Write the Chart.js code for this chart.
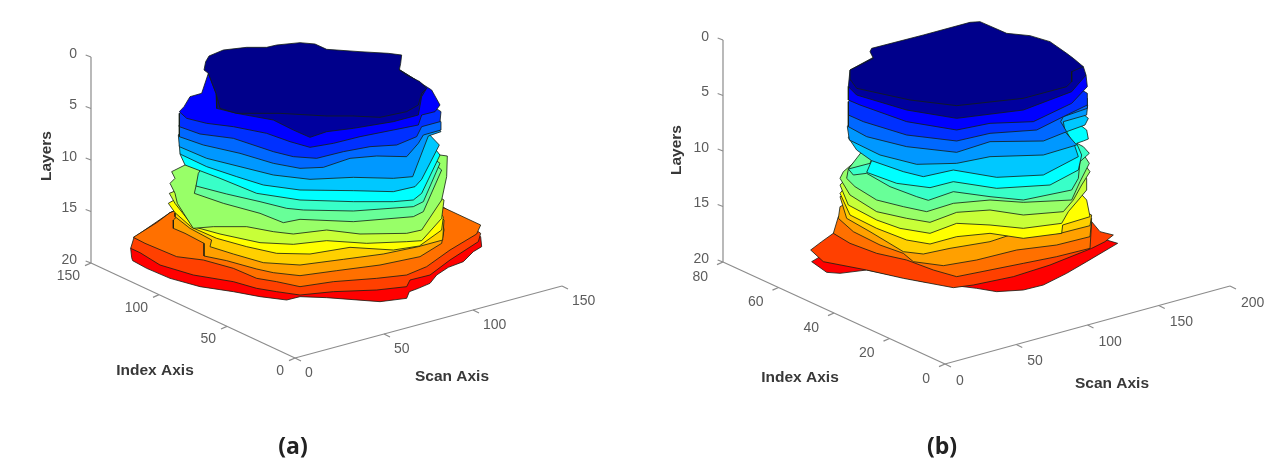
<!DOCTYPE html>
<html>
<head>
<meta charset="utf-8">
<script src="https://cdn.jsdelivr.net/npm/chart.js@4/dist/chart.umd.js"></script>
<style>
    html, body { margin: 0; padding: 0; background: #fff; overflow: hidden; }
    #wrap { position: relative; width: 1280px; height: 461px; }
    canvas { position: absolute; top: 0; }
</style>
</head>
<body>
<div id="wrap">
    <canvas id="panelA" width="640" height="461" style="left:0"></canvas>
    <canvas id="panelB" width="640" height="461" style="left:640px"></canvas>
</div>
<script>
// Tick labels
const layerTicks = ['0', '5', '10', '15', '20'];
const indexTicksA = ['150', '100', '50', '0'];
const scanTicksA = ['0', '50', '100', '150'];
const indexTicksB = ['80', '60', '40', '20', '0'];
const scanTicksB = ['0', '50', '100', '150', '200'];

// Layer outlines, view plane units, top layer first
const a01 = [[432,120],[437,95],[447,78],[490,60],[560,52],[620,52],[650,45],[720,38],[765,42],[800,58],[900,65],[985,70],[1025,75],[1022,100],[1018,120],[1040,135],[1080,155],[1100,175],[1085,190],[1075,225],[1040,245],[960,262],[880,258],[800,258],[660,250],[530,250],[480,235],[468,190],[445,130]];
const a02 = [[445,130],[468,190],[470,235],[530,250],[640,270],[700,300],[750,322],[800,305],[880,295],[1000,275],[1075,255],[1085,200],[1100,175],[1060,145],[1020,120]];
const a03 = [[445,130],[425,190],[390,200],[372,230],[358,245],[380,265],[440,280],[520,290],[620,310],[690,335],[750,352],[820,340],[900,320],[1000,300],[1075,285],[1085,255],[1125,245],[1140,225],[1115,180],[1060,145],[1020,120]];
const a04 = [[358,250],[358,290],[420,312],[520,325],[640,365],[700,380],[770,385],[850,365],[930,350],[1010,345],[1070,320],[1085,290],[1140,275],[1143,245],[1000,150],[500,150]];
const a05 = [[358,285],[358,320],[430,345],[540,370],[640,400],[720,415],[790,412],[870,385],[950,378],[1040,380],[1075,340],[1090,315],[1143,300],[1143,275],[1000,150],[500,150]];
const a06 = [[355,315],[358,350],[440,385],[540,410],[640,435],[750,448],[880,442],[1000,445],[1058,440],[1105,318],[1143,305],[1000,150],[500,150]];
const a07 = [[358,345],[360,372],[440,410],[530,440],[610,465],[720,480],[880,482],[1000,485],[1065,470],[1085,448],[1138,345],[1000,200],[500,200]];
const a08 = [[360,372],[375,405],[480,445],[590,490],[720,510],[880,515],[1000,515],[1060,510],[1085,490],[1140,375],[1000,200],[500,200]];
const a09 = [[415,430],[408,468],[500,492],[600,515],[680,535],[730,540],[880,543],[1060,530],[1090,515],[1140,400],[1000,300],[500,300]];
const a10 = [[408,468],[403,490],[490,520],[600,550],[670,578],[720,568],[880,575],[1060,560],[1090,545],[1145,420],[1000,300],[500,300]];
const a11 = [[375,405],[335,425],[345,445],[330,460],[345,490],[352,520],[390,580],[400,595],[460,590],[560,590],[640,605],[700,612],[800,600],[900,612],[1040,610],[1085,600],[1145,510],[1160,440],[1162,378],[1140,375],[1000,300],[500,300]];
const a12 = [[328,490],[345,520],[400,590],[480,612],[600,638],[700,643],[800,632],[920,640],[1040,635],[1085,632],[1145,565],[1152,510],[1000,420],[500,420]];
const a13 = [[325,520],[345,548],[395,592],[470,625],[560,650],[650,670],[750,672],[870,652],[1000,660],[1078,648],[1145,600],[1150,560],[1000,420],[500,420]];
const a14 = [[345,548],[345,560],[390,595],[455,630],[450,650],[520,672],[610,698],[720,705],[850,688],[970,672],[1075,650],[1148,630],[1152,570],[1000,420],[500,420]];
const a15 = [[340,570],[340,595],[375,610],[432,640],[432,678],[500,692],[590,717],[640,728],[720,737],[830,722],[960,705],[1080,680],[1145,640],[1152,600],[1140,530],[1000,420],[500,420]];
const a16 = [[220,622],[255,640],[350,680],[430,690],[520,715],[590,745],[650,755],[720,770],[820,755],[950,745],[1040,735],[1100,710],[1170,660],[1250,612],[1262,585],[1155,535],[700,400],[330,548],[290,578]];
const a17 = [[212,655],[240,668],[300,705],[400,735],[520,755],[590,775],[650,785],[720,795],[820,785],[950,780],[1040,770],[1050,750],[1110,735],[1170,690],[1255,635],[1262,610],[1155,535],[700,400],[330,548],[222,622]];
const a18 = [[215,683],[218,692],[260,715],[330,745],[420,770],[520,785],[600,800],[680,810],[720,800],[800,803],[960,815],[1040,805],[1048,785],[1075,775],[1110,760],[1130,735],[1165,712],[1210,695],[1240,665],[1265,650],[1262,620],[1155,535],[700,400],[330,548],[212,655]];
const panelALayers = [a01, a02, a03, a04, a05, a06, a07, a08, a09, a10, a11, a12, a13, a14, a15, a16, a17, a18];

// Layer outlines, view plane units, top layer first
const b01 = [[545,100],[700,60],[840,22],[870,20],[950,55],[1020,62],[1080,80],[1130,115],[1150,130],[1180,155],[1145,170],[1145,200],[1130,215],[1000,250],[800,272],[660,255],[500,220],[482,195],[480,165],[550,130],[540,110]];
const b02 = [[480,165],[475,215],[500,240],[650,285],[800,310],[1000,285],[1145,230],[1188,180],[1180,155],[1000,100],[600,100]];
const b03 = [[475,215],[475,255],[510,270],[650,320],[800,345],[900,325],[1030,320],[1145,265],[1192,215],[1188,180],[1000,100],[600,100]];
const b04 = [[475,260],[475,300],[520,320],[650,360],[800,378],[900,355],[1040,345],[1120,305],[1192,270],[1192,235],[1000,120],[600,120]];
const b05 = [[475,300],[475,335],[530,365],[650,395],[800,412],[900,380],[1060,378],[1130,350],[1112,320],[1120,305],[1192,280],[1192,250],[1000,120],[600,120]];
const b06 = [[472,335],[478,375],[570,420],[680,448],[800,445],[900,425],[1060,420],[1160,390],[1125,350],[1120,320],[1190,300],[1193,270],[1000,150],[600,150]];
const b07 = [[475,368],[500,405],[545,437],[640,470],[700,485],[790,465],[920,487],[1060,480],[1165,425],[1155,395],[1130,350],[1185,330],[1195,310],[1000,150],[600,150]];
const b08 = [[545,437],[530,472],[620,505],[720,518],[790,500],[920,520],[1080,510],[1165,465],[1175,420],[1160,385],[1180,378],[1195,372],[1190,345],[1000,200],[600,200]];
const b09 = [[540,445],[475,462],[490,480],[530,475],[600,515],[680,545],[715,556],[790,530],[900,545],[1000,555],[1145,525],[1165,490],[1170,440],[1198,415],[1180,395],[1000,300],[600,300]];
const b10 = [[475,462],[470,490],[495,515],[560,555],[640,575],[710,590],[790,565],[900,555],[1000,562],[1145,555],[1170,500],[1198,445],[1185,425],[1000,300],[600,300]];
const b11 = [[460,470],[450,490],[480,540],[560,590],[650,610],[720,622],[800,592],[900,585],[1000,600],[1120,590],[1150,555],[1175,510],[1200,470],[1185,450],[1000,350],[600,350]];
const b12 = [[450,510],[475,570],[560,615],[630,640],[720,655],[800,625],[900,630],[1000,640],[1115,625],[1135,590],[1165,555],[1190,525],[1190,490],[1000,350],[600,350]];
const b13 = [[450,535],[480,600],[560,640],[650,675],[720,687],[800,665],[900,655],[1000,670],[1115,655],[1118,630],[1200,605],[1190,555],[1000,350],[600,350]];
const b14 = [[450,545],[470,610],[540,650],[640,710],[700,717],[780,700],[900,680],[960,660],[1110,655],[1200,632],[1205,600],[1000,500],[600,500]];
const b15 = [[450,575],[445,610],[490,650],[570,690],[640,715],[670,740],[760,752],[860,735],[980,705],[1100,690],[1200,665],[1205,610],[1000,500],[600,500]];
const b16 = [[445,605],[430,655],[480,685],[560,715],[650,735],[730,765],[800,785],[900,765],[1000,745],[1100,725],[1200,700],[1205,620],[1000,500],[600,500]];
const b17 = [[430,655],[395,680],[362,705],[400,740],[530,765],[640,790],[790,818],[850,810],[970,785],[1080,750],[1205,700],[1245,680],[1270,660],[1230,650],[1205,620],[1000,520],[600,520]];
const b18 = [[365,740],[410,772],[450,775],[530,765],[700,800],[860,820],[920,830],[1000,825],[1060,810],[1130,775],[1190,740],[1283,685],[1250,675],[1200,640],[1000,520],[600,600]];
const panelBLayers = [b01, b02, b03, b04, b05, b06, b07, b08, b09, b10, b11, b12, b13, b14, b15, b16, b17, b18];

const layerColors = ['#00008b', '#00009e', '#0000ff', '#0030ff', '#0068ff', '#0098ff', '#00c8ff', '#00ffff', '#38ffc8', '#68ff98', '#98ff68', '#c8ff38', '#ffff00', '#ffd000', '#ffa000', '#ff7000', '#ff4000', '#ff0000'];

function closed(outline)
{
    const pts = outline.map(p => ({x: p[0], y: p[1]}));
    pts.push(pts[0]);
    return pts;
}

function lerp(p, q, t)
{
    return [p[0] + (q[0] - p[0]) * t, p[1] + (q[1] - p[1]) * t];
}

// Axis lines, ticks and their labels for one panel
function axisParts(cfg)
{
    const lines = [];
    const texts = [];

    lines.push([cfg.top, cfg.back], [cfg.back, cfg.origin], [cfg.origin, cfg.scanEnd]);

    layerTicks.forEach((label, i) =>
    {
        const p = lerp(cfg.top, cfg.back, i / (layerTicks.length - 1));
        lines.push([p, [p[0] - 16, p[1] - 6]]);
        texts.push({text: label, at: [p[0] + cfg.layerOff[0], p[1] + cfg.layerOff[1]], align: 'right'});
    });

    cfg.indexTicks.forEach((label, i) =>
    {
        const p = lerp(cfg.back, cfg.origin, i / (cfg.indexTicks.length - 1));
        lines.push([p, [p[0] - 18, p[1] + 8]]);
        texts.push({text: label, at: [p[0] + cfg.indexOff[0], p[1] + cfg.indexOff[1]], align: 'right'});
    });

    cfg.scanTicks.forEach((label, i) =>
    {
        const p = lerp(cfg.origin, cfg.scanEnd, i / (cfg.scanTicks.length - 1));
        lines.push([p, [p[0] + 18, p[1] + 9]]);
        texts.push({text: label, at: [p[0] + cfg.scanOff[0], p[1] + cfg.scanOff[1]], align: 'left'});
    });

    return {lines, texts};
}

function makePanel(id, cfg, layers)
{
    const parts = axisParts(cfg);

    const datasets = layers.map((outline, i) =>
    ({
        data: closed(outline),
        showLine: true,
        fill: 'shape',
        backgroundColor: layerColors[i],
        borderColor: 'rgba(20,30,20,0.8)',
        borderWidth: 1,
        pointRadius: 0,
        tension: 0
    }));

    parts.lines.forEach(seg =>
    {
        datasets.push(
        {
            data: closed(seg).slice(0, 2),
            showLine: true,
            fill: false,
            borderColor: '#8c8c8c',
            borderWidth: 1.2,
            pointRadius: 0
        });
    });

    const labelPlugin =
    {
        id: 'viewLabels',
        afterDraw(chart)
        {
            const {ctx, scales} = chart;
            const px = p => [scales.x.getPixelForValue(p[0]), scales.y.getPixelForValue(p[1])];

            ctx.save();
            ctx.textBaseline = 'middle';

            ctx.font = '14px "Liberation Sans"';
            ctx.fillStyle = '#5c5c5c';
            parts.texts.forEach(t =>
            {
                const [x, y] = px(t.at);
                ctx.textAlign = t.align;
                ctx.fillText(t.text, x, y);
            });

            ctx.textAlign = 'center';
            ctx.fillStyle = '#383838';
            ctx.font = 'bold 15.5px "Liberation Sans"';
            ctx.fillText('Index Axis', ...px(cfg.indexTitle));
            ctx.fillText('Scan Axis', ...px(cfg.scanTitle));

            const [lx, ly] = px(cfg.layerTitle);
            ctx.translate(lx, ly);
            ctx.rotate(-Math.PI / 2);
            ctx.fillText('Layers', 0, 0);
            ctx.rotate(Math.PI / 2);
            ctx.translate(-lx, -ly);

            ctx.fillStyle = '#222';
            ctx.font = 'bold 23px "Open Sans"';
            ctx.fillText(cfg.caption, ...px(cfg.captionAt));
            ctx.restore();
        }
    };

    return new Chart(document.getElementById(id),
    {
        type: 'scatter',
        data: {datasets},
        plugins: [labelPlugin],
        options:
        {
            responsive: false,
            animation: false,
            layout: {padding: 0},
            plugins:
            {
                legend: {display: false},
                tooltip: {enabled: false},
                filler: {propagate: false}
            },
            scales:
            {
                x: {type: 'linear', display: false, min: cfg.xRange[0], max: cfg.xRange[1]},
                y: {type: 'linear', display: false, reverse: true, min: cfg.yRange[0], max: cfg.yRange[1]}
            }
        }
    });
}

makePanel('panelA',
{
    xRange: [-180, 1740], yRange: [-90, 1293],
    top: [93, 81], back: [93, 699], origin: [705, 984], scanEnd: [1506, 768],
    indexTicks: indexTicksA, scanTicks: scanTicksA,
    layerOff: [-42, -9], indexOff: [-33, 39], scanOff: [30, 45],
    indexTitle: [285, 1023], scanTitle: [1176, 1041], layerTitle: [-39, 378],
    caption: '(a)', captionAt: [699, 1251]
}, panelALayers);

makePanel('panelB',
{
    xRange: [-150, 1770], yRange: [-45, 1338],
    top: [99, 75], back: [99, 741], origin: [765, 1047], scanEnd: [1620, 813],
    indexTicks: indexTicksB, scanTicks: scanTicksB,
    layerOff: [-42, -9], indexOff: [-45, 45], scanOff: [33, 51],
    indexTitle: [330, 1089], scanTitle: [1266, 1107], layerTitle: [-39, 405],
    caption: '(b)', captionAt: [756, 1296]
}, panelBLayers);
</script>
</body>
</html>
